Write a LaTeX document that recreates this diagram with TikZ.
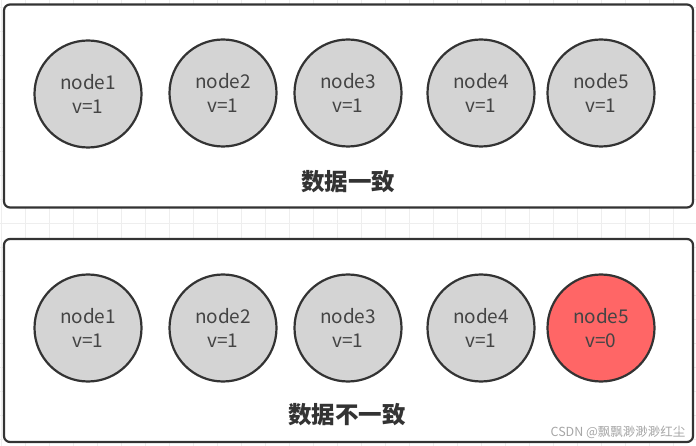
\documentclass[tikz,border=0pt]{standalone}
\usepackage{fontspec}
\setmainfont{Noto Sans CJK SC}
\usetikzlibrary{positioning}

\definecolor{edgegray}{HTML}{333333}
\definecolor{labelgray}{HTML}{444444}
\definecolor{nodegray}{HTML}{D4D4D4}
\definecolor{stalered}{HTML}{FF6666}
\definecolor{gridgray}{HTML}{EEEEEE}

\begin{document}
\begin{tikzpicture}[
    x=1pt, y=-1pt,
    font=\fontsize{19}{24}\selectfont,
    panel/.style={
        draw=edgegray, line width=2.2pt, rounded corners=6pt,
        fill=white, inner sep=0pt,
        minimum width=689pt, minimum height=203pt
    },
    replica/.style={
        circle, draw=edgegray, line width=2.2pt, fill=nodegray,
        minimum size=107pt, inner sep=0pt,
        align=center, text=labelgray
    },
    stale/.style={
        replica, fill=stalered
    },
    caption/.style={
        font=\fontsize{23.5}{23.5}\selectfont\bfseries, text=edgegray
    },
    watermark/.style={
        font=\fontsize{12.5}{12.5}\selectfont, text=black!35, anchor=east
    }
]

\useasboundingbox (0,0) rectangle (696,446);

% --- faint canvas grid ---
\draw[gridgray, line width=0.6pt, xshift=1pt, yshift=-7pt, step=24pt] (-1,-7) grid (695,439);

% --- upper panel: all replicas agree ---
\node[panel] (okpanel) at (348.5,106) {};
\node[replica] (ok1) at (88,94)  {node1\\v=1};
\node[replica] (ok2) at (223,93) {node2\\v=1};
\node[replica] (ok3) at (348,93) {node3\\v=1};
\node[replica] (ok4) at (481,93) {node4\\v=1};
\node[replica] (ok5) at (601,93) {node5\\v=1};
\node[caption] (okcap) at (348,182) {数据一致};

% --- lower panel: node5 lags behind ---
\node[panel] (badpanel) at (348.5,340.5) {};
\node[replica] (bad1) at (88,328)  {node1\\v=1};
\node[replica] (bad2) at (223,328) {node2\\v=1};
\node[replica] (bad3) at (348,328) {node3\\v=1};
\node[replica] (bad4) at (481,328) {node4\\v=1};
\node[stale]   (bad5) at (601,328) {node5\\v=0};
\node[caption] (badcap) at (347,415) {数据不一致};

% --- site mark ---
\node[watermark] (mark) at (689,432) {CSDN @飘飘渺渺渺红尘};

\end{tikzpicture}
\end{document}
